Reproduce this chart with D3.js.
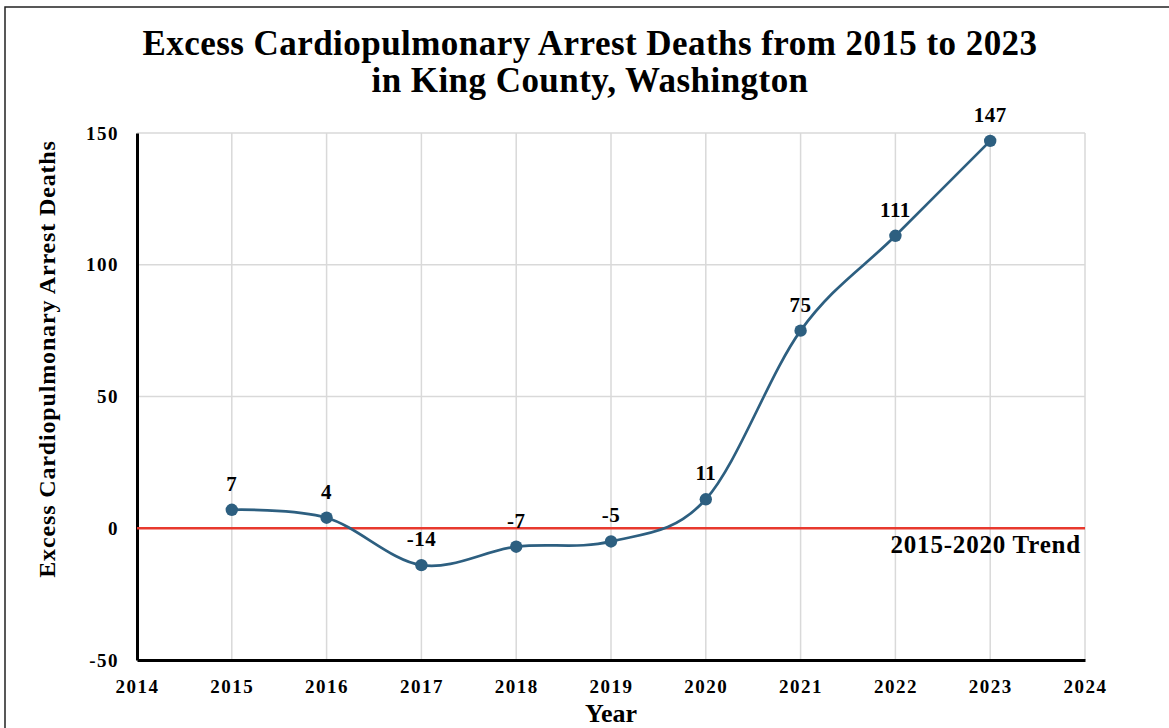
<!DOCTYPE html>
<html>
<head>
<meta charset="utf-8">
<script src="https://cdn.jsdelivr.net/npm/d3@7"></script>
<style>
  body { margin: 0; background: #fff; }
  text { font-family: "Liberation Serif", "Times New Roman", serif; font-weight: bold; fill: #000; }
</style>
</head>
<body>
<div id="chart"></div>
<script>
// data
const years = [2015, 2016, 2017, 2018, 2019, 2020, 2021, 2022, 2023];
const excess = [7, 4, -14, -7, -5, 11, 75, 111, 147];
const xTicks = [2014, 2015, 2016, 2017, 2018, 2019, 2020, 2021, 2022, 2023, 2024];
const yTicks = [-50, 0, 50, 100, 150];
const trendValue = 0;

const width = 1169;
const height = 728;
const margin = { left: 137, right: 84, top: 133, bottom: 68 };

const svg = d3.select("#chart")
.append("svg")
  .attr("width", width)
  .attr("height", height);

// outer frame
svg.append("path")
  .attr("d", `M5,${height} L5,7 L${width},7`)
  .attr("fill", "none")
  .attr("stroke", "#222")
  .attr("stroke-width", 1.5);

const x = d3.scaleLinear().domain([2014, 2024]).range([margin.left, width - margin.right]);
const y = d3.scaleLinear().domain([-50, 150]).range([height - margin.bottom, margin.top]);

// gridlines
svg.append("g").selectAll("line")
.data(xTicks.slice(1))
.enter().append("line")
  .attr("x1", d => x(d)).attr("x2", d => x(d))
  .attr("y1", y(150)).attr("y2", y(-50))
  .attr("stroke", "#d9d9d9").attr("stroke-width", 1.5);

svg.append("g").selectAll("line")
.data(yTicks.filter(d => d > -50))
.enter().append("line")
  .attr("x1", x(2014)).attr("x2", x(2024))
  .attr("y1", d => y(d)).attr("y2", d => y(d))
  .attr("stroke", "#d9d9d9").attr("stroke-width", 1.5);

// axes
const xAxis = svg.append("g")
  .attr("transform", `translate(0,${y(-50)})`)
  .call(d3.axisBottom(x).tickValues(xTicks).tickFormat(d3.format("d")).tickSize(0).tickPadding(20));
xAxis.select(".domain").attr("stroke", "#000").attr("stroke-width", 3);
xAxis.selectAll("text").attr("font-size", 19).attr("letter-spacing", 1.5)
  .style("font-family", "Liberation Serif").style("font-weight", "bold").attr("fill", "#000");

const yAxis = svg.append("g")
  .attr("transform", `translate(${x(2014)},0)`)
  .call(d3.axisLeft(y).tickValues(yTicks).tickFormat(d => String(d)).tickSize(0).tickPadding(18));
yAxis.select(".domain").attr("stroke", "#000").attr("stroke-width", 3);
yAxis.selectAll("text").attr("font-size", 19).attr("letter-spacing", 1.5)
  .style("font-family", "Liberation Serif").style("font-weight", "bold").attr("fill", "#000");

// trend line
svg.append("line")
  .attr("x1", x(2014)).attr("x2", x(2024))
  .attr("y1", y(trendValue)).attr("y2", y(trendValue))
  .attr("stroke", "#e8392e").attr("stroke-width", 2.5);

svg.append("text")
  .attr("x", x(2024) - 4)
  .attr("y", y(trendValue) + 25)
  .attr("text-anchor", "end")
  .attr("font-size", 25)
  .attr("letter-spacing", 0.8)
  .text("2015-2020 Trend");

// series
const pts = years.map((d, i) => [d, excess[i]]);
const line = d3.line()
  .x(d => x(d[0]))
  .y(d => y(d[1]))
  .curve(d3.curveCatmullRom.alpha(0));

svg.append("path")
  .datum(pts)
  .attr("d", line)
  .attr("fill", "none")
  .attr("stroke", "#2d5f80")
  .attr("stroke-width", 2.7);

svg.append("g").selectAll("circle")
.data(pts)
.enter().append("circle")
  .attr("cx", d => x(d[0]))
  .attr("cy", d => y(d[1]))
  .attr("r", 6.2)
  .attr("fill", "#2d5f80");

svg.append("g").selectAll("text")
.data(pts)
.enter().append("text")
  .attr("x", d => x(d[0]))
  .attr("y", d => y(d[1]) - 19)
  .attr("text-anchor", "middle")
  .attr("font-size", 21)
  .attr("letter-spacing", 0.5)
  .text(d => d[1]);

// titles
svg.append("text")
  .attr("x", 590).attr("y", 55)
  .attr("text-anchor", "middle")
  .attr("font-size", 35)
  .attr("letter-spacing", 0.45)
  .text("Excess Cardiopulmonary Arrest Deaths from 2015 to 2023");
svg.append("text")
  .attr("x", 590).attr("y", 92)
  .attr("text-anchor", "middle")
  .attr("font-size", 35)
  .attr("letter-spacing", 0.45)
  .text("in King County, Washington");

svg.append("text")
  .attr("transform", `translate(55,359) rotate(-90)`)
  .attr("text-anchor", "middle")
  .attr("font-size", 24)
  .attr("letter-spacing", 0.85)
  .text("Excess Cardiopulmonary Arrest Deaths");

svg.append("text")
  .attr("x", 611).attr("y", 722)
  .attr("text-anchor", "middle")
  .attr("font-size", 26)
  .text("Year");
</script>
</body>
</html>
